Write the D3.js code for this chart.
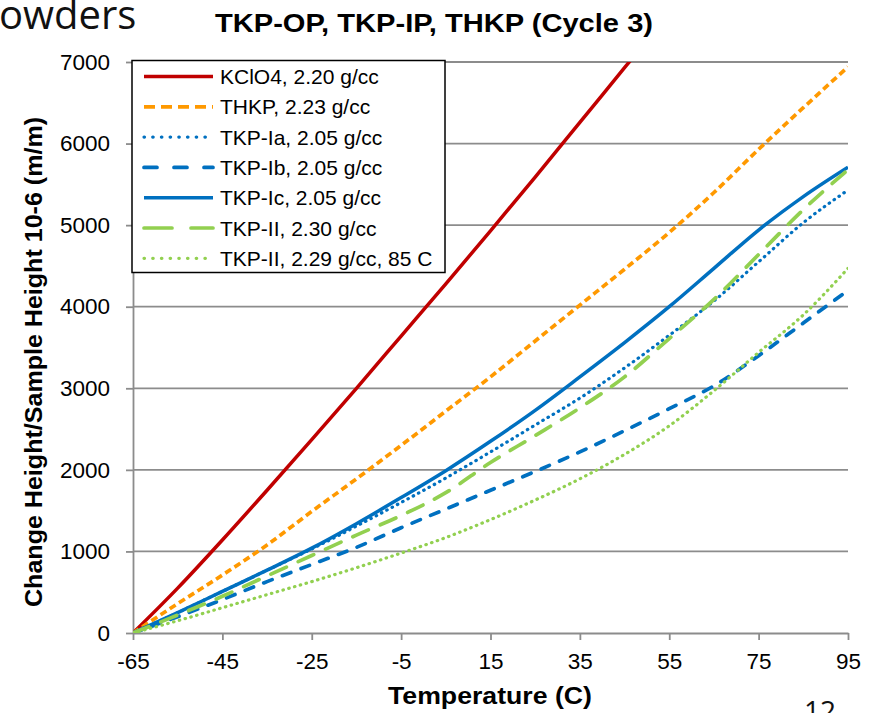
<!DOCTYPE html>
<html lang="en">
<head>
  <meta charset="UTF-8">
  <title>TKP-OP, TKP-IP, THKP (Cycle 3)</title>
  <script src="https://d3js.org/d3.v7.min.js"></script>
  <style>
    body { margin: 0; background: #fff; }
    text { font-family: "Liberation Sans", Arial, sans-serif; }
  </style>
</head>
<body>
  <script>
    "use strict";
    // Temperatures (C) shared by every series
    var temps = [-65, -55, -45, -35, -25, -15, -5, 5, 15, 25, 35, 45, 55, 65, 75, 85, 95];

    // Change height / sample height, 10-6 (m/m)
    var kclo4  = [0, 550, 1140, 1750, 2370, 3000, 3640, 4280, 4930, 5590, 6260, 6930, 7600, null, null, null, null];
    var thkp   = [0, 360, 710, 1080, 1490, 1890, 2300, 2720, 3140, 3580, 4020, 4460, 4910, 5400, 5930, 6440, 6940];
    var tkpIa  = [0, 250, 510, 770, 1030, 1310, 1600, 1900, 2220, 2550, 2880, 3250, 3650, 4070, 4550, 5030, 5430];
    var tkpIb  = [0, 200, 410, 630, 840, 1050, 1290, 1520, 1750, 1980, 2220, 2480, 2750, 3030, 3400, 3800, 4200];
    var tkpIc  = [0, 250, 510, 770, 1040, 1340, 1660, 1990, 2350, 2730, 3140, 3560, 4000, 4470, 4940, 5350, 5710];
    var tkpII  = [0, 220, 450, 700, 950, 1200, 1440, 1720, 2090, 2420, 2760, 3140, 3610, 4090, 4640, 5190, 5680];
    var tkpII85 = [0, 150, 310, 470, 630, 800, 980, 1170, 1390, 1630, 1890, 2190, 2540, 2970, 3440, 3900, 4470];

    var seriesNames = [
      "KClO4, 2.20 g/cc",
      "THKP, 2.23 g/cc",
      "TKP-Ia, 2.05 g/cc",
      "TKP-Ib, 2.05 g/cc",
      "TKP-Ic, 2.05 g/cc",
      "TKP-II, 2.30 g/cc",
      "TKP-II, 2.29 g/cc, 85 C"
    ];
    var xTicks = [-65, -45, -25, -5, 15, 35, 55, 75, 95];
    var yTicks = [0, 1000, 2000, 3000, 4000, 5000, 6000, 7000];

    // line styles (chart dash, legend dash, cap)
    var styles = [
      { color: "#C00000", dash: null, legendDash: null, cap: "butt", w: 3.5 },
      { color: "#FF9900", dash: "7,4", legendDash: "11,6", cap: "butt", w: 3.7 },
      { color: "#0070C0", dash: "0.5,5.5", legendDash: "0.5,8.2", cap: "round", w: 3.2 },
      { color: "#0070C0", dash: "9,11", legendDash: "13,17", cap: "round", w: 3.7 },
      { color: "#0070C0", dash: null, legendDash: null, cap: "butt", w: 3.5 },
      { color: "#92D050", dash: "17,13", legendDash: "28,19", cap: "round", w: 3.7 },
      { color: "#92D050", dash: "0.5,5.5", legendDash: "0.5,8.2", cap: "round", w: 3.2 }
    ];
    var allValues = [kclo4, thkp, tkpIa, tkpIb, tkpIc, tkpII, tkpII85];

    var W = 872, H = 713;
    var svg = d3.select("body").append("svg")
      .attr("width", W)
      .attr("height", H);

    var x = d3.scaleLinear().domain([-65, 95]).range([133, 848]);
    var y = d3.scaleLinear().domain([0, 7000]).range([633, 62]);

    // leftover slide text
    svg.append("text")
      .attr("x", -1).attr("y", 29)
      .style("font-family", "'Open Sans', 'Noto Sans', sans-serif")
      .attr("font-size", 40)
      .attr("fill", "#111")
      .text("owders");
    svg.append("text")
      .attr("x", 804).attr("y", 721)
      .style("font-family", "'Open Sans', 'Noto Sans', sans-serif")
      .attr("font-size", 28)
      .attr("fill", "#111")
      .text("12");

    // title
    svg.append("text")
      .attr("x", 434).attr("y", 32)
      .attr("text-anchor", "middle")
      .attr("font-size", 25)
      .attr("font-weight", "bold")
      .attr("textLength", 438)
      .attr("lengthAdjust", "spacingAndGlyphs")
      .text("TKP-OP, TKP-IP, THKP (Cycle 3)");

    // gridlines
    svg.append("g").selectAll("line")
      .data(yTicks.filter(function (d) { return d > 0; }))
      .enter().append("line")
      .attr("x1", 133).attr("x2", 848)
      .attr("y1", function (d) { return y(d); })
      .attr("y2", function (d) { return y(d); })
      .attr("stroke", "#8c8c8c")
      .attr("stroke-width", 1.8);

    // axes
    var fmt = function (d) { return String(d); };
    var yAxis = svg.append("g")
      .attr("transform", "translate(133,0)")
      .call(d3.axisLeft(y).tickValues(yTicks).tickFormat(fmt)
        .tickSize(7).tickSizeOuter(0).tickPadding(16));
    var xAxis = svg.append("g")
      .attr("transform", "translate(0,633)")
      .call(d3.axisBottom(x).tickValues(xTicks).tickFormat(fmt)
        .tickSize(7).tickSizeOuter(0).tickPadding(13));
    [xAxis, yAxis].forEach(function (a) {
      a.select(".domain").attr("stroke", "#8c8c8c").attr("stroke-width", 1.8);
      a.selectAll(".tick line").attr("stroke", "#8c8c8c").attr("stroke-width", 1.8);
      a.selectAll(".tick text")
        .attr("font-size", 22.5)
        .attr("fill", "#000")
        .style("font-family", "'Liberation Sans', Arial, sans-serif");
    });

    // axis titles
    svg.append("text")
      .attr("x", 490).attr("y", 704)
      .attr("text-anchor", "middle")
      .attr("font-size", 23)
      .attr("font-weight", "bold")
      .attr("textLength", 204)
      .attr("lengthAdjust", "spacingAndGlyphs")
      .text("Temperature (C)");
    svg.append("text")
      .attr("transform", "translate(42,362) rotate(-90)")
      .attr("text-anchor", "middle")
      .attr("font-size", 24)
      .attr("font-weight", "bold")
      .attr("textLength", 490)
      .attr("lengthAdjust", "spacingAndGlyphs")
      .text("Change Height/Sample Height 10-6 (m/m)");

    // lines
    svg.append("clipPath").attr("id", "plot-clip")
      .append("rect")
      .attr("x", 133).attr("y", 62)
      .attr("width", 715).attr("height", 571);

    var line = d3.line()
      .defined(function (d) { return d[1] !== null; })
      .x(function (d) { return x(d[0]); })
      .y(function (d) { return y(d[1]); })
      .curve(d3.curveMonotoneX);

    var plot = svg.append("g").attr("clip-path", "url(#plot-clip)");
    allValues.forEach(function (vals, i) {
      var s = styles[i];
      plot.append("path")
        .datum(temps.map(function (t, j) { return [t, vals[j]]; }))
        .attr("fill", "none")
        .attr("stroke", s.color)
        .attr("stroke-width", s.w)
        .attr("stroke-linecap", s.cap)
        .attr("stroke-dasharray", s.dash)
        .attr("d", line);
    });

    // legend
    var leg = svg.append("g");
    leg.append("rect")
      .attr("x", 132).attr("y", 60.5)
      .attr("width", 313).attr("height", 212)
      .attr("fill", "#fff")
      .attr("stroke", "#000")
      .attr("stroke-width", 1.5);
    seriesNames.forEach(function (name, i) {
      var s = styles[i];
      var ly = 76.5 + i * 30.3;
      leg.append("line")
        .attr("x1", 144).attr("x2", 213)
        .attr("y1", ly).attr("y2", ly)
        .attr("stroke", s.color)
        .attr("stroke-width", s.w)
        .attr("stroke-linecap", s.cap)
        .attr("stroke-dasharray", s.legendDash);
      leg.append("text")
        .attr("x", 220).attr("y", ly + 7.5)
        .attr("font-size", 21)
        .text(name);
    });
  </script>
</body>
</html>
